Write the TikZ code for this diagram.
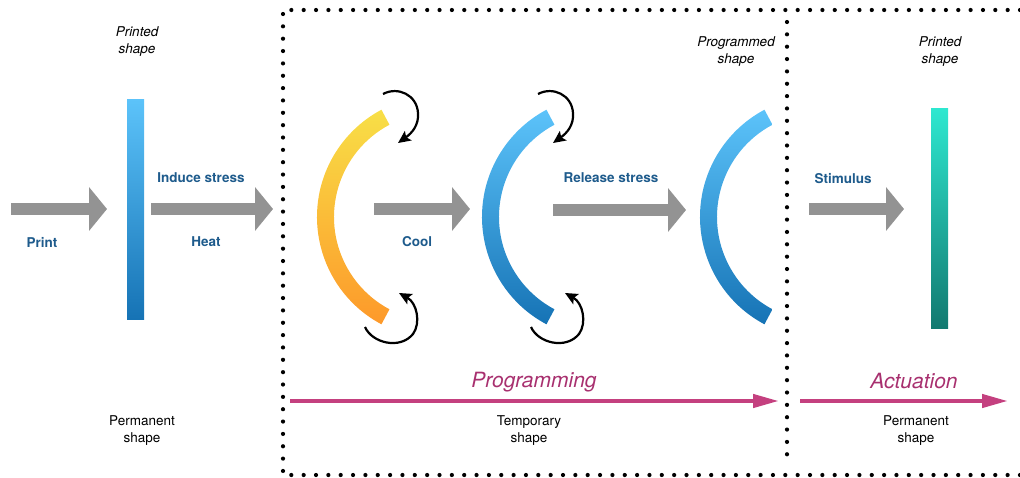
\documentclass[tikz,border=0pt]{standalone}
\usepackage{fontspec}
\setmainfont{TeX Gyre Heros}
\usetikzlibrary{arrows.meta}
\definecolor{garrow}{HTML}{939393}
\definecolor{lblue}{HTML}{1E5B8C}
\definecolor{magline}{HTML}{C4407F}
\definecolor{magtext}{HTML}{A8306F}
\definecolor{btop}{HTML}{5CC3FA}
\definecolor{bbot}{HTML}{1673B5}
\definecolor{ytop}{HTML}{F8DF47}
\definecolor{ybot}{HTML}{FD992A}
\definecolor{ttop}{HTML}{2EE8D0}
\definecolor{tbot}{HTML}{127970}
\begin{document}
\begin{tikzpicture}[x=1pt,y=-1pt,
  blockarrow/.style={draw=garrow, line width=12pt, -{Triangle[length=18pt,width=43pt]}},
  magarrow/.style={draw=magline, line width=4.3pt, -{Triangle[length=26pt,width=13pt]}},
  turnarrow/.style={draw=black, line width=2.2pt, -{Stealth[length=12.5pt,width=11.5pt,inset=2.5pt]}},
  dotline/.style={line width=4.2pt, dash pattern=on 0pt off 12.35pt, line cap=round},
  steplabel/.style={font=\fontsize{13.5}{17}\selectfont\bfseries, text=lblue, inner sep=0pt},
  shapelabel/.style={font=\fontsize{13.5}{17}\selectfont, align=center, inner sep=0pt},
  shapeital/.style={font=\fontsize{13.5}{17}\selectfont\itshape, align=center, inner sep=0pt},
  phaselabel/.style={font=\fontsize{21}{25}\selectfont\itshape, text=magtext, inner sep=0pt},
  bluegrad/.style={top color=btop, bottom color=bbot},
  yellowgrad/.style={top color=ytop, bottom color=ybot},
  tealgrad/.style={top color=ttop, bottom color=tbot}
]
\useasboundingbox (0,0) rectangle (1020,477);

% dotted frame
\draw[dotline] (1020,10) -- (283,10) -- (283,475) -- (1020,475);
\draw[dotline] (787,22) -- (787,457);

% bars
\shade[bluegrad] (127,99) rectangle (144,319);
\shade[tealgrad] (931,108) rectangle (948,328);

% arcs
\coordinate (c1) at (438.5,217);
\coordinate (c2) at (603.5,217);
\coordinate (c3) at (821.5,217);
\shade[yellowgrad] ([shift={(118:121.5)}]c1) arc[start angle=118,end angle=242,radius=121.5]
  -- ([shift={(242:104.5)}]c1) arc[start angle=242,end angle=118,radius=104.5] -- cycle;
\shade[bluegrad] ([shift={(118:121.5)}]c2) arc[start angle=118,end angle=242,radius=121.5]
  -- ([shift={(242:104.5)}]c2) arc[start angle=242,end angle=118,radius=104.5] -- cycle;
\shade[bluegrad] ([shift={(118:121.5)}]c3) arc[start angle=118,end angle=242,radius=121.5]
  -- ([shift={(242:104.5)}]c3) arc[start angle=242,end angle=118,radius=104.5] -- cycle;

% gray block arrows
\coordinate (a1s) at (11,209);  \coordinate (a1e) at (107,209);
\coordinate (a2s) at (151,209); \coordinate (a2e) at (273,209);
\coordinate (a3s) at (374,209); \coordinate (a3e) at (470,209);
\coordinate (a4s) at (553,210); \coordinate (a4e) at (686,210);
\coordinate (a5s) at (809,209); \coordinate (a5e) at (904,209);
\draw[blockarrow] (a1s) -- (a1e);
\draw[blockarrow] (a2s) -- (a2e);
\draw[blockarrow] (a3s) -- (a3e);
\draw[blockarrow] (a4s) -- (a4e);
\draw[blockarrow] (a5s) -- (a5e);

% curved black arrows
\draw[turnarrow] (383,94) .. controls (398,86) and (417,95) .. (418,113) .. controls (419,125) and (412,133) .. (398,143);
\draw[turnarrow] (365,327) .. controls (372,343) and (400,350) .. (413,334) .. controls (421,323) and (417,303) .. (399,293);
\begin{scope}[shift={(155,0)}]
\draw[turnarrow] (383,94) .. controls (398,86) and (417,95) .. (418,113) .. controls (419,125) and (412,133) .. (398,143);
\end{scope}
\begin{scope}[shift={(166,0)}]
\draw[turnarrow] (365,327) .. controls (372,343) and (400,350) .. (413,334) .. controls (421,323) and (417,303) .. (399,293);
\end{scope}

% magenta phase arrows
\coordinate (pgs) at (290,401); \coordinate (pge) at (779,401);
\coordinate (acs) at (800,401); \coordinate (ace) at (1008,401);
\draw[magarrow] (pgs) -- (pge);
\draw[magarrow] (acs) -- (ace);

% labels
\node[steplabel] (print) at (42,242) {Print};
\node[steplabel] (induce) at (201,178) {Induce stress};
\node[steplabel] (heat) at (206,242) {Heat};
\node[steplabel] (cool) at (417,242) {Cool};
\node[steplabel] (release) at (611,178) {Release stress};
\node[steplabel] (stim) at (843,179) {Stimulus};

\node[shapeital] (printed1) at (137,42) {Printed\\shape};
\node[shapeital] (programmed) at (736,52) {Programmed\\shape};
\node[shapeital] (printed2) at (940,52) {Printed\\shape};
\node[shapelabel] (perm1) at (142,431) {Permanent\\shape};
\node[shapelabel] (temp) at (529,431) {Temporary\\shape};
\node[shapelabel] (perm2) at (916,431) {Permanent\\shape};

\node[phaselabel] (prog) at (534,382) {Programming};
\node[phaselabel] (act) at (914,381) {Actuation};
\end{tikzpicture}
\end{document}
